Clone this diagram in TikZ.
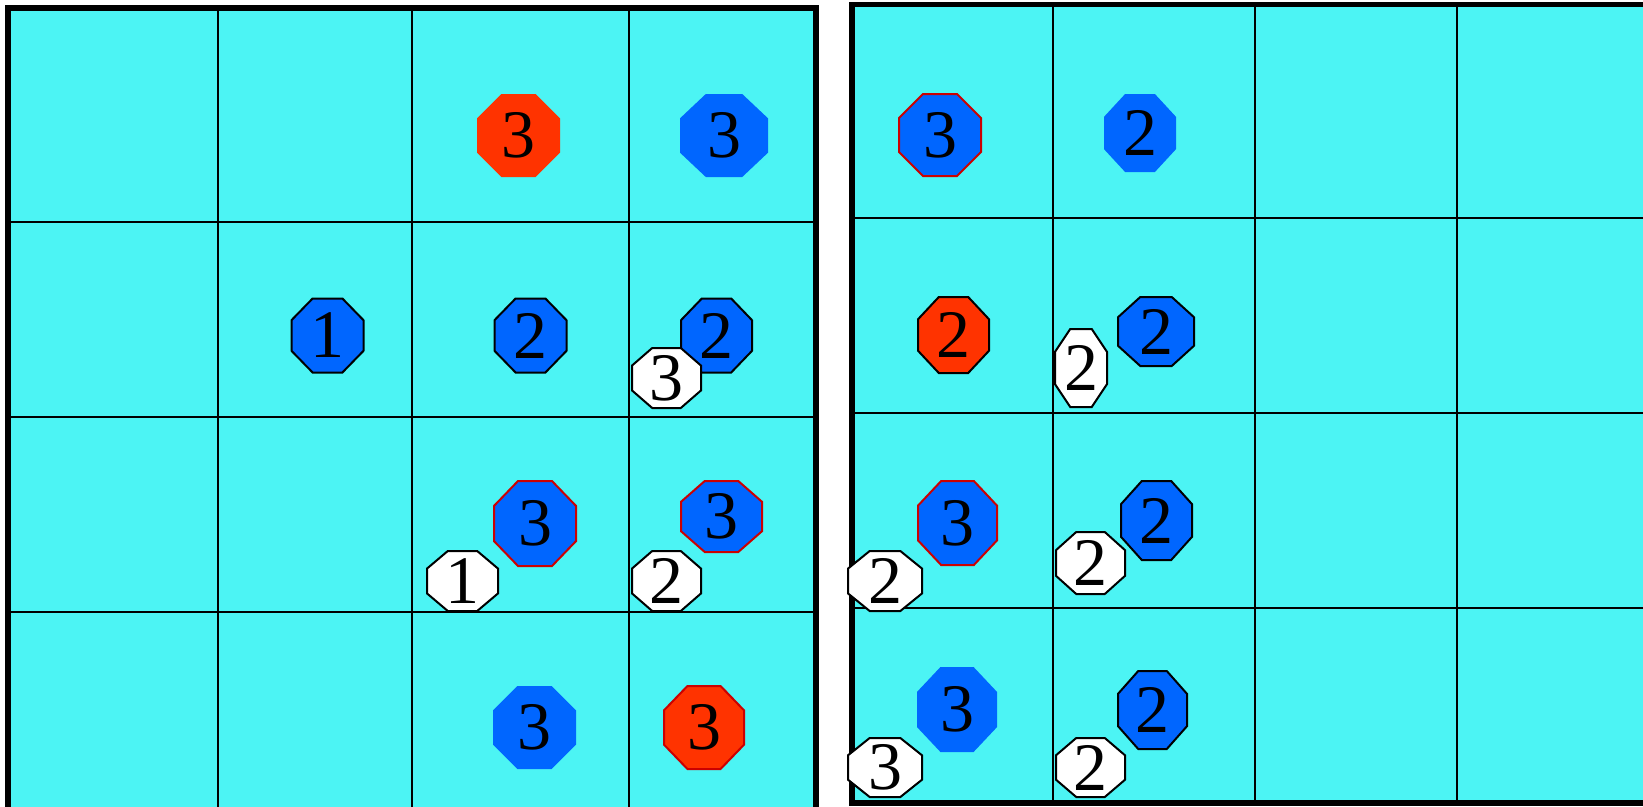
\documentclass[tikz,border=0pt]{standalone}
\usepackage{fontspec}
\setmainfont{Liberation Serif}

\definecolor{board}{RGB}{76,244,244}
\definecolor{chipblue}{RGB}{0,102,255}
\definecolor{chipred}{RGB}{255,51,0}
\definecolor{rimred}{RGB}{204,0,0}

\tikzset{
  gridline/.style={line width=2.4pt},
  frame/.style={line width=5.5pt},
  digit/.style={inner sep=0pt, font=\fontsize{68}{68}\selectfont},
  blueflat/.style={fill=chipblue},
  bluerim/.style={fill=chipblue, draw=black, line width=2pt},
  bluered/.style={fill=chipblue, draw=rimred, line width=2pt},
  redflat/.style={fill=chipred},
  redrim/.style={fill=chipred, draw=black, line width=2pt},
  redred/.style={fill=chipred, draw=rimred, line width=2pt},
  whitechip/.style={fill=white, draw=black, line width=2pt}
}

% octagon chip: name, x, y, half width, half height, style, digit
\newcommand{\chip}[7]{%
  \path[#6] (#2-#4*0.414,#3-#5) -- (#2+#4*0.414,#3-#5) -- (#2+#4,#3-#5*0.414)
    -- (#2+#4,#3+#5*0.414) -- (#2+#4*0.414,#3+#5) -- (#2-#4*0.414,#3+#5)
    -- (#2-#4,#3+#5*0.414) -- (#2-#4,#3-#5*0.414) -- cycle;
  \node[digit] (#1) at (#2,#3) {#7};
}

\begin{document}
\begin{tikzpicture}[x=1pt,y=-1pt]
  \useasboundingbox (0,0) rectangle (1643,806);

  % left board
  \fill[board] (8,8) rectangle (816,830);
  \foreach \x in {218,412,629} \draw[gridline] (\x,8) -- (\x,830);
  \foreach \y in {222,417,612} \draw[gridline] (8,\y) -- (816,\y);
  \draw[frame] (8,8) rectangle (816,830);

  % right board
  \fill[board] (852,4.5) rectangle (1670,803);
  \foreach \x in {1053,1255,1457} \draw[gridline] (\x,4.5) -- (\x,803);
  \foreach \y in {218,413,608} \draw[gridline] (852,\y) -- (1670,\y);
  \draw[frame] (852,4.5) rectangle (1670,803);

  % chips, left board
  \chip{lone}{327.5}{335.5}{36}{37}{bluerim}{1}
  \chip{ltopred}{518.5}{135.5}{41.5}{41.5}{redflat}{3}
  \chip{ltopblue}{724}{135.5}{44}{41.5}{blueflat}{3}
  \chip{lmidtwo}{530.5}{335.5}{36}{37}{bluerim}{2}
  \chip{lsidetwo}{716.5}{335.5}{35.5}{37}{bluerim}{2}
  \chip{lthreeA}{535}{523.5}{41}{42.5}{bluered}{3}
  \chip{lthreeB}{721.5}{516.5}{40.5}{35.5}{bluered}{3}
  \chip{lbotblue}{534.5}{727.5}{41.5}{41.5}{blueflat}{3}
  \chip{lbotred}{704}{727.5}{40}{41.5}{redred}{3}
  \chip{lwthree}{666.5}{378}{34.5}{30}{whitechip}{3}
  \chip{lwone}{462.5}{581}{35.5}{30}{whitechip}{1}
  \chip{lwtwo}{666.5}{581}{34.5}{30}{whitechip}{2}

  % chips, right board
  \chip{rtopthree}{940}{135}{41}{41}{bluered}{3}
  \chip{rtoptwo}{1140}{133}{36}{39}{blueflat}{2}
  \chip{rredtwo}{953.5}{335}{35.5}{38}{redrim}{2}
  \chip{rtwoA}{1156}{331.5}{38}{34.5}{bluerim}{2}
  \chip{rthreeA}{957.5}{523}{39.5}{42}{bluered}{3}
  \chip{rtwoB}{1156.5}{520.5}{35.5}{39.5}{bluerim}{2}
  \chip{rthreeB}{957}{709.5}{40}{42.5}{blueflat}{3}
  \chip{rtwoC}{1152.5}{710}{34.5}{39}{bluerim}{2}
  \chip{rwtall}{1081}{368}{26}{39}{whitechip}{2}
  \chip{rwtwoA}{885}{581}{37}{30}{whitechip}{2}
  \chip{rwtwoB}{1090.5}{563}{34.5}{31}{whitechip}{2}
  \chip{rwthree}{885}{767.5}{37}{29.5}{whitechip}{3}
  \chip{rwtwoC}{1090.5}{767.5}{34.5}{29.5}{whitechip}{2}
\end{tikzpicture}
\end{document}
